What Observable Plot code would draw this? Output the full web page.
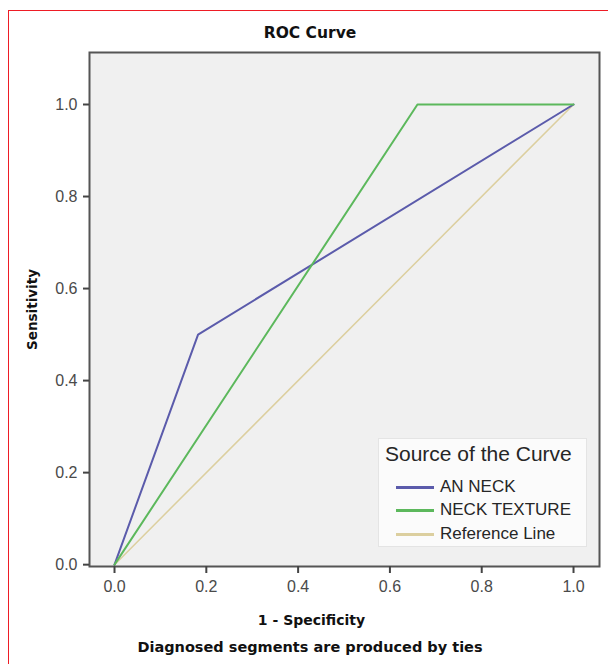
<!DOCTYPE html>
<html>
<head>
<meta charset="utf-8">
<script src="https://cdn.jsdelivr.net/npm/d3@7"></script>
<script src="https://cdn.jsdelivr.net/npm/@observablehq/plot@0.6"></script>
<style>
  html, body { margin: 0; padding: 0; background: #fff; }
  #wrap { position: relative; width: 608px; height: 664px; overflow: hidden; background: #fff; }
  #redline { position: absolute; left: 8px; top: 10px; right: -20px; bottom: -20px;
             border-left: 1.5px solid #ee1c25; border-top: 1.5px solid #ee1c25; z-index: 5; pointer-events: none; }
  .boldlab { font-family: "DejaVu Sans", sans-serif; font-weight: bold; color: #111; text-align: center; }
  #title { height: 48px; box-sizing: border-box; padding-top: 23px; padding-left: 12px; line-height: 20px; font-size: 15.5px; }
  #caption { height: 30px; box-sizing: border-box; padding-top: 3px; padding-left: 12px; line-height: 20px; font-size: 14.5px; }
  #legend { position: absolute; left: 378px; top: 438px; width: 209px; height: 109px; box-sizing: border-box;
            background: #fbfbfb; border: 1px solid #e4e4e4; font-family: "Liberation Sans", Arial, sans-serif; color: #262626; z-index: 3; }
  #legend .lt { position: absolute; left: 6px; top: 2px; line-height: 26px; font-size: 21px; white-space: nowrap; }
  #legend .item { position: absolute; left: 0; height: 22px; line-height: 22px; font-size: 17px; white-space: nowrap; }
  #legend .sw { position: absolute; left: 17px; top: 10px; width: 38px; height: 2.5px; }
  #legend .tx { position: absolute; left: 61px; top: 0; }
  #chart { position: relative; }
</style>
</head>
<body>
<div id="wrap">
  <div id="redline"></div>
  <div id="title" class="boldlab">ROC Curve</div>
  <div id="chart"></div>
  <div id="caption" class="boldlab">Diagnosed segments are produced by ties</div>
  <div id="legend"></div>
</div>
<script>
// ---- data ----
const seriesNames = ["AN NECK", "NECK TEXTURE", "Reference Line"];
const seriesColors = ["#5b5bab", "#5cb85c", "#dccf9f"];
const anNeckFpr = [0, 0.182, 1];
const anNeckTpr = [0, 0.5, 1];
const neckTextureFpr = [0, 0.66, 1];
const neckTextureTpr = [0, 1, 1];
const referenceFpr = [0, 1];
const referenceTpr = [0, 1];
const xTicks = [0, 0.2, 0.4, 0.6, 0.8, 1.0];
const yTicks = [0, 0.2, 0.4, 0.6, 0.8, 1.0];
const xLabel = "1 - Specificity";
const yLabel = "Sensitivity";
const legendTitle = "Source of the Curve";

const toRows = (xs, ys, name) => xs.map((x, i) => ({x, y: ys[i], name}));
const anRows = toRows(anNeckFpr, anNeckTpr, seriesNames[0]);
const texRows = toRows(neckTextureFpr, neckTextureTpr, seriesNames[1]);
const refRows = toRows(referenceFpr, referenceTpr, seriesNames[2]);

const fmt = d3.format(".1f");
const boldFont = "DejaVu Sans, sans-serif";

const chart = Plot.plot({
  width: 608,
  height: 586,
  marginLeft: 89,
  marginRight: 9,
  marginTop: 4,
  marginBottom: 68,
  x: {domain: [-0.0545, 1.0566]},
  y: {domain: [-0.004, 1.113]},
  style: {background: "transparent", fontFamily: "Liberation Sans, Arial, sans-serif", fontSize: "16px", overflow: "visible"},
  marks: [
    Plot.frame({fill: "#f0f0f0", stroke: null}),
    Plot.line(refRows, {x: "x", y: "y", stroke: seriesColors[2], strokeWidth: 1.5}),
    Plot.line(anRows, {x: "x", y: "y", stroke: seriesColors[0], strokeWidth: 2}),
    Plot.line(texRows, {x: "x", y: "y", stroke: seriesColors[1], strokeWidth: 2}),
    Plot.frame({stroke: "#555", strokeWidth: 2}),
    Plot.axisX({ticks: xTicks, tickFormat: fmt, tickSize: 7, tickPadding: 7, fontSize: 16,
                stroke: "#444", strokeWidth: 2, fill: "#4a4a4a", label: null}),
    Plot.axisY({ticks: yTicks, tickFormat: fmt, tickSize: 6, tickPadding: 6, fontSize: 16,
                stroke: "#444", strokeWidth: 2, fill: "#4a4a4a", label: null}),
    Plot.text([xLabel], {frameAnchor: "bottom", dy: 54, dx: -33, text: d => d, fontFamily: boldFont,
                         fontWeight: "bold", fontSize: 14, fill: "#111", textAnchor: "middle", lineAnchor: "middle"}),
    Plot.text([yLabel], {frameAnchor: "left", dx: -57, rotate: -90, text: d => d, fontFamily: boldFont,
                         fontWeight: "bold", fontSize: 13.5, fill: "#111", textAnchor: "middle", lineAnchor: "middle"})
  ]
});
document.getElementById("chart").appendChild(chart);

// ---- legend ----
const legend = document.getElementById("legend");
const lt = document.createElement("div");
lt.className = "lt";
lt.textContent = legendTitle;
legend.appendChild(lt);
const itemTops = [37, 60, 84];
seriesNames.forEach((name, i) => {
  const item = document.createElement("div");
  item.className = "item";
  item.style.top = itemTops[i] + "px";
  const sw = document.createElement("div");
  sw.className = "sw";
  sw.style.background = seriesColors[i];
  const tx = document.createElement("div");
  tx.className = "tx";
  tx.textContent = name;
  item.appendChild(sw);
  item.appendChild(tx);
  legend.appendChild(item);
});
</script>
</body>
</html>
